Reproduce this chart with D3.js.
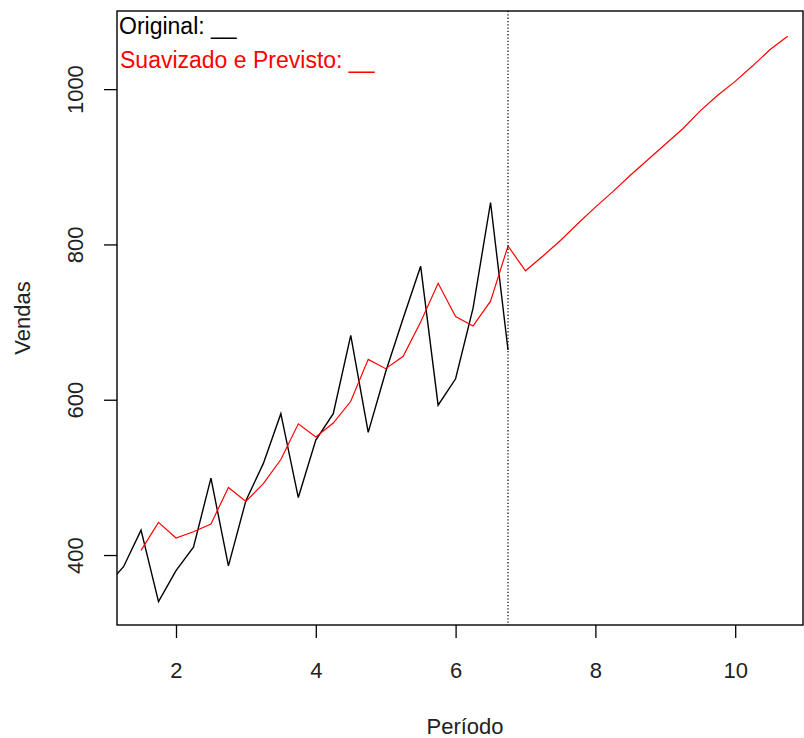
<!DOCTYPE html>
<html>
<head>
<meta charset="utf-8">
<script src="https://cdn.jsdelivr.net/npm/d3@7"></script>
<style>
  body { margin: 0; background: #fff; }
  text { font-family: "Liberation Sans", Arial, sans-serif; }
</style>
</head>
<body>
<svg id="hw" width="804" height="738"></svg>
<script>
// quarterly periods, original series starts at period 1.0
const originalStart = 1.0;
const originalValues = [360, 385, 432, 340, 380, 410, 499, 386, 470, 518, 582, 474,
  548, 582, 683, 558, 636, 705, 772, 593, 627, 718, 854, 664];

// fitted (smoothed) series starts at period 1.5, then the forecast from 7.0
const fittedStart = 1.5;
const fittedValues = [406, 442, 422, 430, 440, 487, 469, 492, 523, 569, 552, 570,
  598, 652, 640, 656, 700, 750, 707, 695, 727, 798];
const forecastValues = [766, 785, 805, 827, 848, 868, 889, 909, 929, 949, 972, 992,
  1010, 1030, 1051, 1068];

const xTicks = [2, 4, 6, 8, 10];
const yTicks = [400, 600, 800, 1000];
const cutoff = 6.75;

(function holtWintersPlot() {
  const svg = d3.select("#hw");
  const box = { left: 117, right: 803, top: 11, bottom: 625 };

  const x = d3.scaleLinear().domain([1.156, 10.97]).range([box.left, box.right]);
  const y = d3.scaleLinear().domain([309.9, 1100.6]).range([box.bottom, box.top]);

  const original = originalValues.map((v, i) => ({ t: originalStart + i * 0.25, v }));
  const smoothed = fittedValues.concat(forecastValues)
    .map((v, i) => ({ t: fittedStart + i * 0.25, v }));

  svg.append("clipPath").attr("id", "plot-clip")
    .append("rect")
    .attr("x", box.left).attr("y", box.top)
    .attr("width", box.right - box.left).attr("height", box.bottom - box.top);

  const line = d3.line().x(d => x(d.t)).y(d => y(d.v));

  const plot = svg.append("g").attr("clip-path", "url(#plot-clip)");

  plot.append("path")
    .datum(original)
    .attr("d", line)
    .attr("fill", "none")
    .attr("stroke", "#000")
    .attr("stroke-width", 1.4);

  plot.append("path")
    .datum(smoothed)
    .attr("d", line)
    .attr("fill", "none")
    .attr("stroke", "#ff0000")
    .attr("stroke-width", 1.2);

  plot.append("line")
    .attr("x1", x(cutoff)).attr("x2", x(cutoff))
    .attr("y1", box.top).attr("y2", box.bottom)
    .attr("stroke", "#000")
    .attr("stroke-width", 1.2)
    .attr("stroke-dasharray", "1.3,2");

  svg.append("rect")
    .attr("x", box.left).attr("y", box.top)
    .attr("width", box.right - box.left).attr("height", box.bottom - box.top)
    .attr("fill", "none")
    .attr("stroke", "#000")
    .attr("stroke-width", 1.4);

  // x axis
  const xAxis = svg.append("g")
    .attr("transform", `translate(0,${box.bottom})`)
    .call(d3.axisBottom(x).tickValues(xTicks).tickSize(13).tickPadding(24).tickFormat(d3.format("d")));
  xAxis.select(".domain").remove();
  xAxis.selectAll(".tick line").attr("stroke", "#000").attr("stroke-width", 1.3);
  xAxis.selectAll(".tick text")
    .attr("fill", "#222")
    .style("font-size", "22px");

  // y axis, labels rotated as in R
  const yAxis = svg.append("g")
    .attr("transform", `translate(${box.left},0)`)
    .call(d3.axisLeft(y).tickValues(yTicks).tickSize(13).tickFormat(d3.format("d")));
  yAxis.select(".domain").remove();
  yAxis.selectAll(".tick line").attr("stroke", "#000").attr("stroke-width", 1.3);
  yAxis.selectAll(".tick text")
    .attr("x", null)
    .attr("text-anchor", "middle")
    .attr("transform", "translate(-42,0) rotate(-90)")
    .attr("dy", "0.35em")
    .attr("fill", "#222")
    .style("font-size", "22px");

  svg.append("text")
    .attr("x", 465)
    .attr("y", 734)
    .attr("text-anchor", "middle")
    .attr("fill", "#222")
    .style("font-size", "22px")
    .text("Período");

  svg.append("text")
    .attr("transform", `translate(30,${(box.top + box.bottom) / 2}) rotate(-90)`)
    .attr("text-anchor", "middle")
    .attr("fill", "#222")
    .style("font-size", "22px")
    .text("Vendas");

  // legend text
  svg.append("text")
    .attr("x", 119).attr("y", 34)
    .attr("fill", "#000")
    .style("font-size", "23px")
    .text("Original: __");

  svg.append("text")
    .attr("x", 120).attr("y", 68)
    .attr("fill", "#ff0000")
    .style("font-size", "23px")
    .text("Suavizado e Previsto: __");
})();
</script>
</body>
</html>
